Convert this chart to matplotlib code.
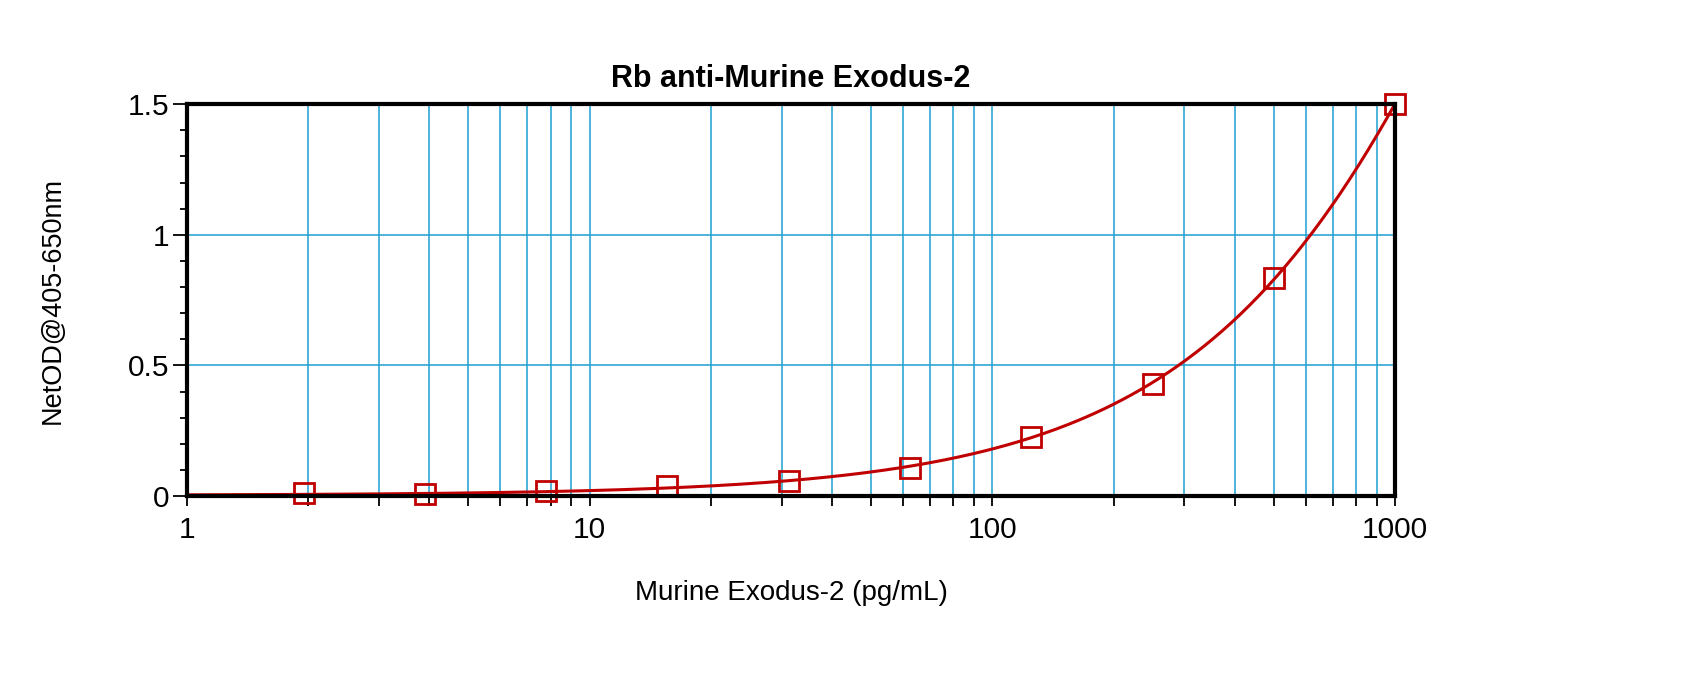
import numpy as np
import matplotlib.pyplot as plt
from matplotlib.ticker import LogLocator, MultipleLocator, NullFormatter

plt.rcParams['font.family'] = ['Liberation Sans', 'DejaVu Sans']

# standard curve
conc = np.array([1.95, 3.9, 7.8, 15.6, 31.25, 62.5, 125, 250, 500, 1000])
od = np.array([0.011, 0.008, 0.019, 0.038, 0.057, 0.107, 0.226, 0.429, 0.834, 1.50])

title = "Rb anti-Murine Exodus-2"
xlabel = "Murine Exodus-2 (pg/mL)"
ylabel = "NetOD@405-650nm"
xticks = [1, 10, 100, 1000]
xticklabels = ["1", "10", "100", "1000"]
yticks = [0, 0.5, 1, 1.5]
yticklabels = ["0", "0.5", "1", "1.5"]

red = '#c00000'
grid_col = '#1ea0d2'

fig = plt.figure(figsize=(17, 6.76), dpi=100)
ax = fig.add_axes([0.110, 0.266, 0.7106, 0.580])

ax.set_xscale('log')
ax.set_xlim(1, 1000)
ax.set_ylim(0, 1.5)

# fitted curve (quadratic fit of the points)
coef = np.polyfit(conc, od, 2)
xs = np.logspace(0, 3, 400)
ax.plot(xs, np.polyval(coef, xs), color=red, lw=2.2, zorder=3, clip_on=False)
ax.plot(conc, od, linestyle='none', marker='s', ms=15, mfc='none', mec=red,
        mew=2, zorder=4, clip_on=False)

ax.set_xticks(xticks)
ax.set_xticklabels(xticklabels)
ax.xaxis.set_minor_locator(LogLocator(base=10, subs=np.arange(2, 10)))
ax.xaxis.set_minor_formatter(NullFormatter())
ax.set_yticks(yticks)
ax.set_yticklabels(yticklabels)
ax.yaxis.set_minor_locator(MultipleLocator(0.1))

ax.grid(True, which='both', axis='x', color=grid_col, lw=1.1)
ax.grid(True, which='major', axis='y', color=grid_col, lw=1.1)
ax.set_axisbelow(True)

for s in ax.spines.values():
    s.set_linewidth(3)
    s.set_zorder(5)

ax.tick_params(axis='both', which='major', direction='out', labelsize=21.5, width=1.3, color='black')
ax.tick_params(axis='y', which='major', length=10, pad=3)
ax.tick_params(axis='y', which='minor', length=5, width=1.3)
ax.tick_params(axis='x', which='major', length=7, pad=7)
ax.tick_params(axis='x', which='minor', length=7, width=1.3)

ax.set_title(title, fontsize=22, fontweight='bold', pad=12)
ax.set_xlabel(xlabel, fontsize=20, labelpad=26)
ax.set_ylabel(ylabel, fontsize=19.5, labelpad=44)

fig.savefig('out.png', dpi=100)
